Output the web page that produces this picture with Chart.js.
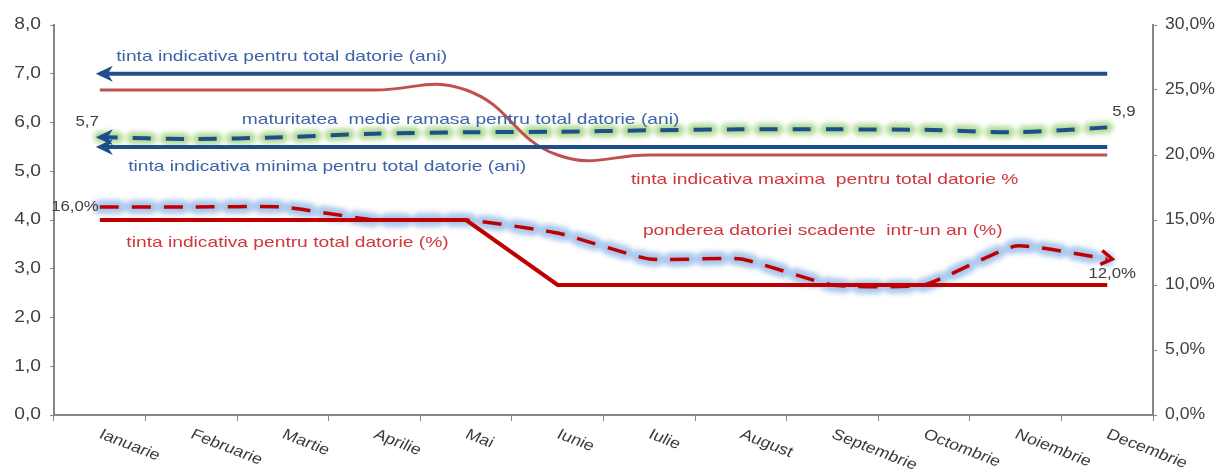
<!DOCTYPE html>
<html>
<head>
<meta charset="utf-8">
<script src="https://cdn.jsdelivr.net/npm/chart.js@4.4.1/dist/chart.umd.min.js"></script>
<style>
  html, body { margin: 0; padding: 0; background: #fff; }
</style>
</head>
<body>
<canvas id="chart" width="1224" height="474"></canvas>
<script>
// Categories
const months = ["Ianuarie", "Februarie", "Martie", "Aprilie", "Mai", "Iunie",
  "Iulie", "August", "Septembrie", "Octombrie", "Noiembrie", "Decembrie"];

// Left axis (ani)
const tintaAni = [7, 7, 7, 7, 7, 7, 7, 7, 7, 7, 7, 7];
const tintaMinimaAni = [5.5, 5.5, 5.5, 5.5, 5.5, 5.5, 5.5, 5.5, 5.5, 5.5, 5.5, 5.5];
const maturitate = [5.7, 5.66, 5.7, 5.77, 5.8, 5.81, 5.84, 5.86, 5.86, 5.85, 5.8, 5.9];

// Right axis (%)
const tintaMaximaPct = [25, 25, 25, 25, 25, 20, 20, 20, 20, 20, 20, 20];
const tintaPct = [15, 15, 15, 15, 15, 10, 10, 10, 10, 10, 10, 10];
const ponderea = [16, 16, 16, 15, 15, 14, 12, 12, 10, 10, 13, 12];

// Tick labels
const leftTicks = ["0,0", "1,0", "2,0", "3,0", "4,0", "5,0", "6,0", "7,0", "8,0"];
const rightTicks = ["0,0%", "5,0%", "10,0%", "15,0%", "20,0%", "25,0%", "30,0%"];

const FONT = "'Liberation Sans', Arial, sans-serif";
const BLUE = "#1f4e8c";
const BLUE_TXT = "#3d63a6";
const RED = "#c00000";
const RED_LIGHT = "#c0504d";
const RED_TXT = "#d0363a";
const AXIS = "#868686";
const TICK_TXT = "#404040";

const fmt = v => v.toFixed(1).replace(".", ",");

// text annotations: x as category index, y in left axis units
const notes = [
  { text: "tinta indicativa pentru total datorie (ani)", x: 0.18, y: 7.34, color: BLUE_TXT },
  { text: "maturitatea  medie ramasa pentru total datorie (ani)", x: 1.55, y: 6.05, color: BLUE_TXT },
  { text: "tinta indicativa minima pentru total datorie (ani)", x: 0.31, y: 5.09, color: BLUE_TXT },
  { text: "tinta indicativa maxima  pentru total datorie %", x: 5.8, y: 4.82, color: RED_TXT },
  { text: "tinta indicativa pentru total datorie (%)", x: 0.29, y: 3.53, color: RED_TXT },
  { text: "ponderea datoriei scadente  intr-un an (%)", x: 5.93, y: 3.77, color: RED_TXT }
];

// horizontally stretched text
function wideText(ctx, text, x, y, align, sx) {
  const w = ctx.measureText(text).width * sx;
  if (align === "right") x -= w;
  if (align === "center") x -= w / 2;
  ctx.save();
  ctx.translate(x, y);
  ctx.scale(sx, 1);
  ctx.textAlign = "left";
  ctx.fillText(text, 0, 0);
  ctx.restore();
}

function chevron(ctx, x, y, ang, color, w) {
  ctx.save();
  ctx.translate(x, y);
  ctx.rotate(ang);
  ctx.strokeStyle = color;
  ctx.lineWidth = w;
  ctx.beginPath();
  ctx.moveTo(-11, -7);
  ctx.lineTo(0, 0);
  ctx.lineTo(-11, 7);
  ctx.stroke();
  ctx.restore();
}

function stealth(ctx, x, y, color) {
  ctx.save();
  ctx.fillStyle = color;
  ctx.beginPath();
  ctx.moveTo(x, y);
  ctx.lineTo(x + 17, y - 8);
  ctx.lineTo(x + 12, y);
  ctx.lineTo(x + 17, y + 8);
  ctx.closePath();
  ctx.fill();
  ctx.restore();
}

const overlay = {
  id: "overlay",
  beforeDatasetDraw(chart, args) {
    if (chart.data.datasets[args.index].glow) {
      chart.ctx.save();
      chart.ctx.filter = "blur(2.5px)";
    }
  },
  afterDatasetDraw(chart, args) {
    if (chart.data.datasets[args.index].glow) chart.ctx.restore();
  },
  afterDatasetsDraw(chart) {
    const ctx = chart.ctx;
    // arrowheads
    [0, 1, 2].forEach(i => {
      const p = chart.getDatasetMeta(i).data[0];
      stealth(ctx, p.x - 4, p.y, BLUE);
    });
    const pts = chart.getDatasetMeta(5).data;
    const a = pts[pts.length - 2], b = pts[pts.length - 1];
    chevron(ctx, b.x + 5, b.y, Math.atan2(b.y - a.y, b.x - a.x), RED, 3.5);
  },
  afterDraw(chart) {
    const ctx = chart.ctx;
    const xs = chart.scales.x, yl = chart.scales.y, yr = chart.scales.y2;
    ctx.save();
    // y tick labels
    ctx.font = "16px " + FONT;
    ctx.fillStyle = TICK_TXT;
    ctx.textBaseline = "middle";
    leftTicks.forEach((t, i) => wideText(ctx, t, yl.right - 13, yl.getPixelForValue(i), "right", 1.2));
    rightTicks.forEach((t, i) => wideText(ctx, t, yr.left + 12, yr.getPixelForValue(i * 5), "left", 1.1));
    // rotated month labels
    ctx.font = "15px " + FONT;
    ctx.fillStyle = "#3a3a3a";
    ctx.textAlign = "left";
    ctx.textBaseline = "top";
    months.forEach((m, i) => {
      ctx.save();
      ctx.translate(xs.getPixelForTick(i) + 4, xs.top + 12);
      ctx.scale(1.2, 1);
      ctx.rotate(25 * Math.PI / 180);
      ctx.fillText(m, 0, 0);
      ctx.restore();
    });
    // annotations
    ctx.font = "15px " + FONT;
    ctx.textBaseline = "middle";
    notes.forEach(n => {
      ctx.fillStyle = n.color;
      wideText(ctx, n.text, xs.getPixelForValue(n.x), yl.getPixelForValue(n.y), "left", 1.28);
    });
    // value labels
    ctx.font = "14px " + FONT;
    ctx.fillStyle = TICK_TXT;
    const m = chart.getDatasetMeta(2).data;
    wideText(ctx, fmt(maturitate[0]), m[0].x - 1, m[0].y - 15, "right", 1.2);
    wideText(ctx, fmt(maturitate[11]), m[11].x + 5, m[11].y - 15, "left", 1.2);
    const p = chart.getDatasetMeta(5).data;
    wideText(ctx, fmt(ponderea[0]) + "%", p[0].x - 1, p[0].y, "right", 1.2);
    wideText(ctx, fmt(ponderea[11]) + "%", p[11].x + 5, p[11].y + 15, "center", 1.2);
    ctx.restore();
  }
};

new Chart(document.getElementById("chart"), {
  type: "line",
  data: {
    labels: months,
    datasets: [
      { data: tintaAni, yAxisID: "y", borderColor: BLUE, borderWidth: 4, tension: 0 },
      { data: tintaMinimaAni, yAxisID: "y", borderColor: BLUE, borderWidth: 4, tension: 0 },
      { data: maturitate, yAxisID: "y", borderColor: BLUE, borderWidth: 4, borderDash: [18, 15], tension: 0.3 },
      { data: tintaMaximaPct, yAxisID: "y2", borderColor: RED_LIGHT, borderWidth: 3, tension: 0.45 },
      { data: tintaPct, yAxisID: "y2", borderColor: RED, borderWidth: 4, tension: 0 },
      { data: ponderea, yAxisID: "y2", borderColor: RED, borderWidth: 3.5, borderDash: [19, 13], tension: 0.15 },
      // glows
      { data: maturitate, yAxisID: "y", glow: true, borderColor: "rgba(150,205,110,0.75)", borderWidth: 12, borderDash: [18, 15], borderCapStyle: "round", tension: 0.3 },
      { data: ponderea, yAxisID: "y2", glow: true, borderColor: "rgba(140,180,230,0.75)", borderWidth: 14, borderDash: [19, 13], borderCapStyle: "round", tension: 0.15 }
    ]
  },
  options: {
    responsive: false,
    devicePixelRatio: 1,
    animation: false,
    layout: { padding: { top: 25 } },
    elements: { point: { radius: 0, hoverRadius: 0 } },
    plugins: {
      legend: { display: false },
      tooltip: { enabled: false }
    },
    scales: {
      x: {
        offset: true,
        grid: { drawOnChartArea: false, drawTicks: true, tickLength: 6, color: AXIS, offset: true },
        border: { color: AXIS, width: 2 },
        ticks: { display: false },
        afterFit: s => { s.height = 59; }
      },
      y: {
        position: "left",
        min: 0,
        max: 8,
        grid: { drawOnChartArea: false, tickLength: 4, color: AXIS },
        border: { color: AXIS, width: 2 },
        ticks: { display: false, stepSize: 1 },
        afterFit: s => { s.width = 54; }
      },
      y2: {
        position: "right",
        min: 0,
        max: 30,
        grid: { drawOnChartArea: false, tickLength: 4, color: AXIS },
        border: { color: AXIS, width: 2 },
        ticks: { display: false, stepSize: 5 },
        afterFit: s => { s.width = 71; }
      }
    }
  },
  plugins: [overlay]
});
</script>
</body>
</html>
